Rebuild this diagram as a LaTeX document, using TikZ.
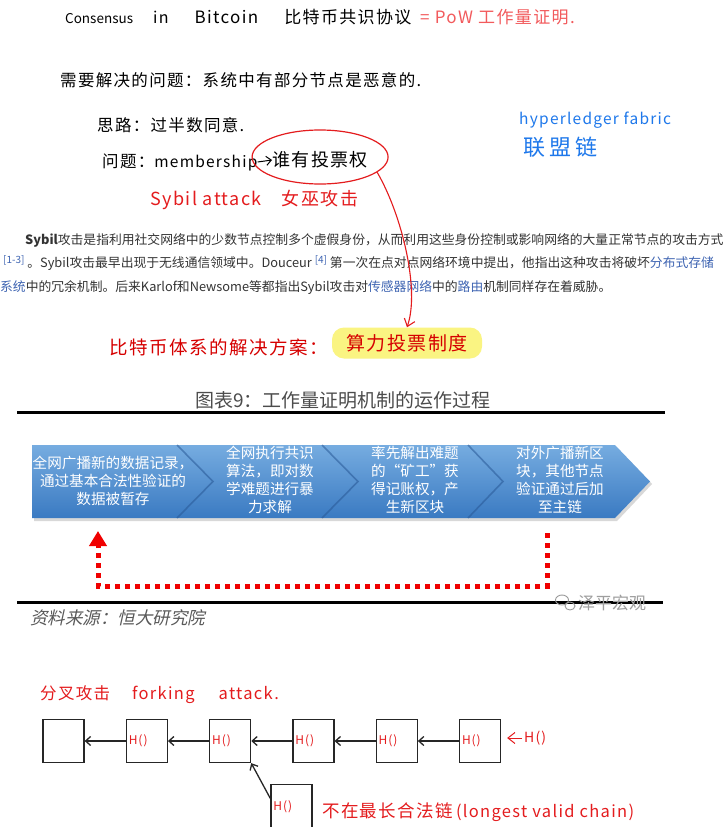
\documentclass[tikz,border=0pt]{standalone}
\usepackage{fontspec}
\usepackage{xcolor}
\usepackage{tikz}
\usetikzlibrary{shapes.geometric, arrows.meta, positioning, fit, calc}
\setmainfont{Noto Sans CJK SC}
\newfontfamily\hand[LetterSpace=8]{Noto Sans CJK SC}
\newfontfamily\slantcjk[FakeSlant=0.22]{Noto Sans CJK SC}
\definecolor{inkred}{RGB}{228, 28, 30}
\definecolor{pinkred}{RGB}{242, 90, 92}
\definecolor{deepred}{RGB}{214, 0, 0}
\definecolor{inkblue}{RGB}{30, 120, 235}
\definecolor{linkblue}{RGB}{62, 100, 178}
\definecolor{bodygray}{RGB}{51, 51, 51}
\definecolor{bandtop}{RGB}{118, 172, 224}
\definecolor{bandbot}{RGB}{58, 122, 194}
\definecolor{bandseam}{RGB}{40, 88, 150}
\definecolor{hilite}{RGB}{250, 244, 130}
\definecolor{loopred}{RGB}{240, 0, 0}
\newcommand{\fsz}[2]{\fontsize{#1}{#2}\selectfont}

\begin{document}
\begin{tikzpicture}[
    x=1pt, y=-1pt,
    every node/.style={inner sep=0pt, font=\hand},
    note/.style={anchor=west, font=\hand\fsz{16.5}{20}},
    rednote/.style={note, text=inkred},
    bodyline/.style={anchor=west, text=bodygray, font=\fsz{12.8}{16}},
    steptext/.style={align=center, text=white, font=\fsz{14.6}{18}},
    blockbox/.style={rectangle, draw=black!85, line width=1.3pt, minimum width=41pt, minimum height=43pt,
                     text width=36pt, align=left, inner sep=2.5pt, text=inkred, font=\hand\fsz{12}{14}},
    arr/.style={-{Straight Barb[length=5pt, width=9pt]}, line width=1.3pt, draw=black!85},
    redarr/.style={-{Straight Barb[length=7pt, width=11pt]}, line width=1.1pt, draw=inkred},
    seam/.style={draw=bandseam, line width=1.6pt, opacity=0.55},
    dotloop/.style={-{Triangle[length=15pt, width=17pt]}, draw=loopred, line width=5pt, dash pattern=on 5pt off 5pt},
    rule/.style={line width=3pt, draw=black},
]
\fill[white] (0,0) rectangle (726,827);
\useasboundingbox (0,0) rectangle (726,827);

% ── Handwritten notes, top ──
\node[note, font=\normalfont\fsz{13.5}{18}] (heading) at (65,17)
    {Consensus\hspace{20pt}{\hand\fsz{16}{18}in}\hspace{26pt}{\hand\fsz{17}{20}Bitcoin}\hspace{26pt}{\hand\fsz{17}{20}比特币共识协议}};
\node[rednote, text=pinkred, font=\hand\fsz{17}{20}] (pow) at (420,17) {= PoW 工作量证明.};
\node[note] (need) at (60,80) {需要解决的问题：系统中有部分节点是恶意的.};
\node[note] (idea) at (97,125) {思路：过半数同意.};
\node[note] (mem) at (102,162) {问题：{\fsz{15.5}{18}membership}};
\node[note, font=\hand\fsz{18}{21}] (who) at (272,160) {谁有投票权};
\node[ellipse, draw=inkred, line width=1.2pt, fit=(who), minimum height=54pt, yshift=3pt] (ring) {};
\node[rednote, font=\hand\fsz{18}{21}] (sybil) at (150,200) {Sybil attack\hspace{20pt}女巫攻击};

% ── Blue side note ──
\node[note, text=inkblue, font=\hand\fsz{15.5}{18}] (fabric) at (519,120) {hyperledger fabric};
\node[note, text=inkblue, font=\hand\fsz{22}{26}] (consort) at (523,147) {联\hspace{4pt}盟\hspace{4pt}链};

% ── Quoted paragraph ──
\node[bodyline] (p1) at (25,240)
    {\textbf{Sybil}攻击是指利用社交网络中的少数节点控制多个虚假身份，从而利用这些身份控制或影响网络的大量正常节点的攻击方式};
\node[bodyline] (p2) at (3,263)
    {\textcolor{linkblue}{\fsz{10}{12}\raisebox{4pt}{[1-3]}}\ 。Sybil攻击最早出现于无线通信领域中。Douceur \textcolor{linkblue}{\fsz{10}{12}\raisebox{4pt}{[4]}} 第一次在点对点网络环境中提出，他指出这种攻击将破坏\textcolor{linkblue}{分布式存储}};
\node[bodyline] (p3) at (0,288)
    {\textcolor{linkblue}{系统}中的冗余机制。后来Karlof和Newsome等都指出Sybil攻击对\textcolor{linkblue}{传感器网络}中的\textcolor{linkblue}{路由}机制同样存在着威胁。};

% ── Bitcoin answer ──
\node[rednote, text=deepred, font=\hand\fsz{18.5}{22}] (solu) at (109,347) {比特币体系的解决方案：};
\node[rectangle, rounded corners=12pt, fill=hilite, minimum width=150pt, minimum height=31pt,
      text=deepred, font=\hand\fsz{19}{22}] (hl) at (407,343) {算力投票制度};

% ── Note arrows ──
\draw[arr, line width=1pt, draw=black] (mem.east) -- (who.west);
\draw[redarr] (ring.-15) .. controls (402,215) and (420,290) .. (hl.north);

% ── Chart: PoW process ──
\node[text=black!70, font=\fsz{19}{22}] (ctitle) at (343,400) {图表9：工作量证明机制的运作过程};
\draw[rule] (17,412) -- (665,412);
\fill[black!30, opacity=0.5] (34,448) -- (617,448) -- (652,484) -- (617,521) -- (34,521) -- cycle;
\shade[top color=bandtop, bottom color=bandbot] (32,445) -- (615,445) -- (650,481.5) -- (615,518) -- (32,518) -- cycle;
\draw[seam] (177,445) -- (213,481.5) -- (177,518);
\draw[seam] (322,445) -- (358,481.5) -- (322,518);
\draw[seam] (468,445) -- (503,481.5) -- (468,518);

\node[steptext] (s1) at (113,481) {全网广播新的数据记录，\\通过基本合法性验证的\\数据被暂存};
\node[steptext] (s2) at (270,480) {全网执行共识\\算法，即对数\\学难题进行暴\\力求解};
\node[steptext] (s3) at (415,480) {率先解出难题\\的“矿工”获\\得记账权，产\\生新区块};
\node[steptext] (s4) at (560,480) {对外广播新区\\块，其他节点\\验证通过后加\\至主链};

\coordinate (loopfrom) at (547,533);
\coordinate (loopcorner) at (98,586);
\coordinate (loopto) at (98,531);
\draw[dotloop] (loopfrom) |- (loopcorner) -- (loopto);

\draw[rule] (17,602) -- (663,602);
\node[anchor=west, text=black!65, font=\slantcjk\fsz{17.5}{20}] (src) at (30,618) {资料来源：恒大研究院};

% ── Watermark ──
\draw[black!40, line width=0.9pt] (562,600) ellipse [x radius=6.5, y radius=5];
\draw[black!40, line width=0.9pt] (570,606) ellipse [x radius=5, y radius=4];
\node[anchor=west, text=black!38, font=\fsz{17}{20}] (mark) at (578,603) {泽平宏观};

% ── Forking attack ──
\node[rednote, font=\hand\fsz{16.5}{20}] (forkt) at (40,695) {分叉攻击\hspace{22pt}forking\hspace{24pt}attack.};

\node[blockbox] (b1) at (63.5,741) {};
\node[blockbox, right=41pt of b1] (b2) {H()};
\node[blockbox, right=41pt of b2] (b3) {H()};
\node[blockbox, right=41pt of b3] (b4) {H()};
\node[blockbox, right=41pt of b4] (b5) {H()};
\node[blockbox, right=41pt of b5] (b6) {H()};
\node[blockbox, below right=21pt and 19pt of b3] (bf) {H()};

\draw[arr] (b2.west) -- (b1.east);
\draw[arr] (b3.west) -- (b2.east);
\draw[arr] (b4.west) -- (b3.east);
\draw[arr] (b5.west) -- (b4.east);
\draw[arr] (b6.west) -- (b5.east);
\draw[arr] ([yshift=8pt]bf.west) -- (b3.south east);

\node[rednote, font=\hand\fsz{14}{16}] (hin) at (524,738) {H()};
\draw[redarr, line width=1pt, shorten >=6pt] ([xshift=-2pt]hin.west) -- (b6.east |- hin.west);

\node[rednote, font=\hand\fsz{17.5}{20}] (notlong) at (322,812)
    {不在最长合法链\,{\fsz{16.5}{20}(longest valid chain)}};

\end{tikzpicture}
\end{document}
